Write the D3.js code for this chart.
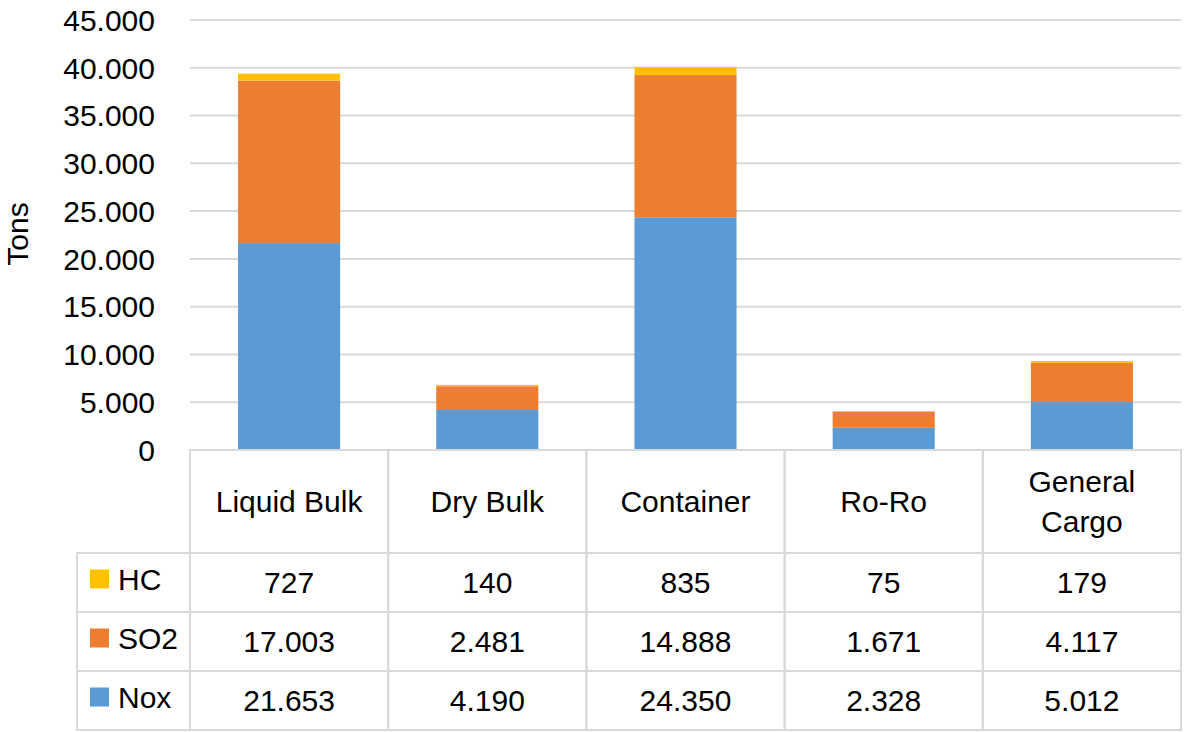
<!doctype html>
<html lang="en">
  <head>
    <meta charset="utf-8">
    <title>Emissions by ship type</title>
    <script src="https://d3js.org/d3.v7.min.js"></script>
    <style>
    body { margin: 0; background: #fff; }
    text {
      font-family: "Liberation Sans", Arial, sans-serif;
      font-size: 30px;
      fill: #000;
    }
    .grid line { stroke: #d9d9d9; stroke-width: 2; }
    .cell { stroke: #d9d9d9; stroke-width: 2; fill: none; }
    </style>
  </head>
  <body>
    <svg width="1184" height="732"></svg>
    <script>
      var categories = ['Liquid Bulk', 'Dry Bulk', 'Container', 'Ro-Ro', 'General Cargo'];
      var categoryLines = [['Liquid Bulk'], ['Dry Bulk'], ['Container'], ['Ro-Ro'], ['General', 'Cargo']];
      var nox = [21653, 4190, 24350, 2328, 5012];
      var so2 = [17003, 2481, 14888, 1671, 4117];
      var hc = [727, 140, 835, 75, 179];
      var seriesNames = ['Nox', 'SO2', 'HC'];
      var seriesColors = ['#5b9bd5', '#ed7d31', '#ffc000'];
      var yTicks = [0, 5000, 10000, 15000, 20000, 25000, 30000, 35000, 40000, 45000];

      var fmt = d3.formatLocale({decimal: ',', thousands: '.', grouping: [3], currency: ['', '']}).format(',d');

      var svg = d3.select('svg');
      var plotLeft = 190, plotRight = 1181, plotTop = 20, plotBase = 450;

      var rows = categories.map(function(c, i) {
        return {cat: c, Nox: nox[i], SO2: so2[i], HC: hc[i]};
      });

      var x = d3.scaleBand()
        .domain(categories)
        .range([plotLeft, plotRight])
        .paddingInner(0.485)
        .paddingOuter(0.2425);

      var y = d3.scaleLinear()
        .domain([0, 45000])
        .range([plotBase, plotTop]);

      var color = d3.scaleOrdinal().domain(seriesNames).range(seriesColors);

      // gridlines
      svg.append('g').attr('class', 'grid')
        .selectAll('line')
        .data(yTicks.slice(1))
        .enter().append('line')
          .attr('x1', plotLeft).attr('x2', plotRight)
          .attr('y1', function(d){ return y(d); })
          .attr('y2', function(d){ return y(d); });

      // y tick labels
      svg.append('g').selectAll('text')
        .data(yTicks)
        .enter().append('text')
          .attr('x', 155)
          .attr('y', function(d){ return y(d); })
          .attr('dy', '0.36em')
          .attr('text-anchor', 'end')
          .text(function(d){ return fmt(d); });

      svg.append('text')
        .attr('transform', 'translate(28,234) rotate(-90)')
        .attr('text-anchor', 'middle')
        .text('Tons');

      // stacked bars
      var stack = d3.stack().keys(seriesNames)(rows);
      svg.append('g').selectAll('g')
        .data(stack)
        .enter().append('g')
          .attr('fill', function(d){ return color(d.key); })
        .selectAll('rect')
        .data(function(d){ return d; })
        .enter().append('rect')
          .attr('x', function(d){ return x(d.data.cat); })
          .attr('width', x.bandwidth())
          .attr('y', function(d){ return y(d[1]); })
          .attr('height', function(d){ return y(d[0]) - y(d[1]); });

      // data table
      var colStep = x.step();
      var headBottom = 553;
      var rowEdges = [553, 612, 671, 730];
      var tableLeft = 77;
      var table = svg.append('g');

      // header row
      categories.forEach(function(c, i) {
        var cx = plotLeft + i * colStep;
        table.append('rect').attr('class', 'cell')
          .attr('x', cx).attr('y', plotBase)
          .attr('width', colStep).attr('height', headBottom - plotBase);
        var lines = categoryLines[i];
        lines.forEach(function(t, j) {
          table.append('text')
            .attr('x', cx + colStep / 2)
            .attr('y', (plotBase + headBottom) / 2 + (j - (lines.length - 1) / 2) * 40)
            .attr('dy', '0.36em')
            .attr('text-anchor', 'middle')
            .text(t);
        });
      });

      // value rows: HC, SO2, Nox from top
      var tableSeries = [['HC', hc], ['SO2', so2], ['Nox', nox]];
      tableSeries.forEach(function(s, r) {
        var y0 = rowEdges[r], y1 = rowEdges[r + 1], mid = (y0 + y1) / 2;
        table.append('rect').attr('class', 'cell')
          .attr('x', tableLeft).attr('y', y0)
          .attr('width', plotLeft - tableLeft).attr('height', y1 - y0);
        table.append('rect')
          .attr('x', 90).attr('y', mid - 13)
          .attr('width', 19).attr('height', 19)
          .attr('fill', color(s[0]));
        table.append('text')
          .attr('x', 118).attr('y', mid - 3)
          .attr('dy', '0.36em')
          .text(s[0]);
        s[1].forEach(function(v, i) {
          var cx = plotLeft + i * colStep;
          table.append('rect').attr('class', 'cell')
            .attr('x', cx).attr('y', y0)
            .attr('width', colStep).attr('height', y1 - y0);
          table.append('text')
            .attr('x', cx + colStep / 2)
            .attr('y', mid)
            .attr('dy', '0.36em')
            .attr('text-anchor', 'middle')
            .text(fmt(v));
        });
      });
    </script>
  </body>
</html>
